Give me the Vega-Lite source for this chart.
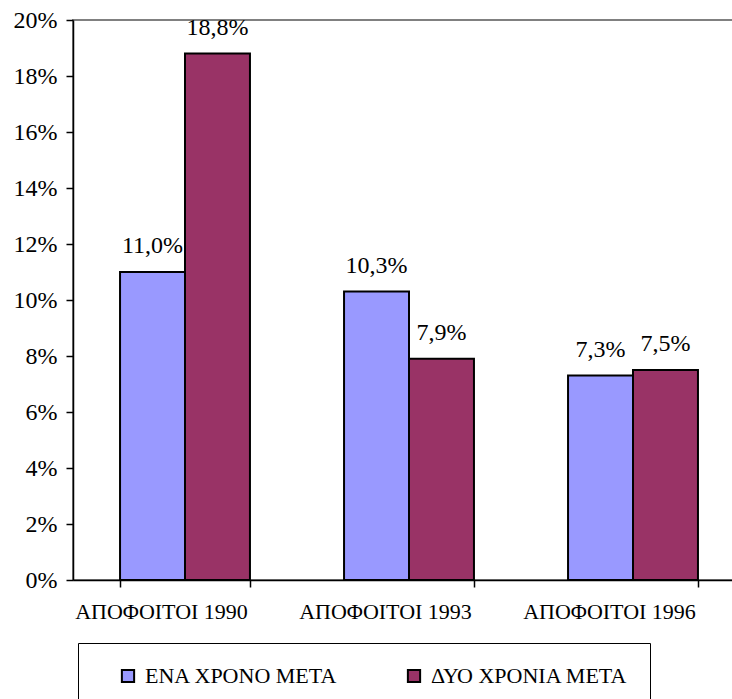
{
  "$schema": "https://vega.github.io/schema/vega-lite/v6.json",
  "width": 672,
  "height": 560,
  "autosize": "none",
  "padding": {"left": 73, "top": 20, "right": 0, "bottom": 119},
  "background": "white",
  "config": {
    "locale": {"number": {"decimal": ",", "thousands": ".", "grouping": [3], "currency": ["", "€"]}},
    "view": {"stroke": "#808080", "strokeWidth": 2},
    "font": "Liberation Serif, DejaVu Serif, serif"
  },
  "data": {
    "values": [
      {"group": "ΑΠΟΦΟΙΤΟΙ 1990", "series": "ΕΝΑ ΧΡΟΝΟ ΜΕΤΑ", "value": 0.110},
      {"group": "ΑΠΟΦΟΙΤΟΙ 1990", "series": "ΔΥΟ ΧΡΟΝΙΑ ΜΕΤΑ", "value": 0.188},
      {"group": "ΑΠΟΦΟΙΤΟΙ 1993", "series": "ΕΝΑ ΧΡΟΝΟ ΜΕΤΑ", "value": 0.103},
      {"group": "ΑΠΟΦΟΙΤΟΙ 1993", "series": "ΔΥΟ ΧΡΟΝΙΑ ΜΕΤΑ", "value": 0.079},
      {"group": "ΑΠΟΦΟΙΤΟΙ 1996", "series": "ΕΝΑ ΧΡΟΝΟ ΜΕΤΑ", "value": 0.073},
      {"group": "ΑΠΟΦΟΙΤΟΙ 1996", "series": "ΔΥΟ ΧΡΟΝΙΑ ΜΕΤΑ", "value": 0.075}
    ]
  },
  "encoding": {
    "x": {
      "field": "group", "type": "nominal", "sort": null,
      "scale": {"paddingInner": 0.42, "paddingOuter": 0.21},
      "axis": {
        "title": null, "labelAngle": 0, "labelOffset": -24, "labelFontSize": 22,
        "labelColor": "black", "labelPadding": 14, "tickBand": "extent",
        "ticks": true, "tickSize": 7, "tickColor": "black", "tickWidth": 1.5,
        "domainColor": "black", "domainWidth": 1.5, "labelFont": "Liberation Serif, DejaVu Serif, serif"
      }
    },
    "xOffset": {"field": "series", "type": "nominal", "sort": ["ΕΝΑ ΧΡΟΝΟ ΜΕΤΑ", "ΔΥΟ ΧΡΟΝΙΑ ΜΕΤΑ"]},
    "y": {
      "field": "value", "type": "quantitative",
      "scale": {"domain": [0, 0.2], "nice": false},
      "axis": {
        "title": null, "grid": false, "format": ".0%",
        "values": [0, 0.02, 0.04, 0.06, 0.08, 0.1, 0.12, 0.14, 0.16, 0.18, 0.2],
        "labelFontSize": 24, "labelColor": "black", "labelPadding": 9,
        "tickSize": 7, "tickColor": "black", "tickWidth": 1.5,
        "domainColor": "black", "domainWidth": 1.5, "labelFont": "Liberation Serif, DejaVu Serif, serif"
      }
    }
  },
  "layer": [
    {
      "mark": {"type": "bar", "stroke": "black", "strokeWidth": 2},
      "encoding": {
        "color": {
          "field": "series", "type": "nominal",
          "sort": ["ΕΝΑ ΧΡΟΝΟ ΜΕΤΑ", "ΔΥΟ ΧΡΟΝΙΑ ΜΕΤΑ"],
          "scale": {"domain": ["ΕΝΑ ΧΡΟΝΟ ΜΕΤΑ", "ΔΥΟ ΧΡΟΝΙΑ ΜΕΤΑ"], "range": ["#9999FF", "#993366"]},
          "legend": {
            "title": null, "orient": "none", "legendX": 5, "legendY": 623,
            "direction": "horizontal", "columns": 2,
            "strokeColor": "black", "fillColor": "white", "padding": 22,
            "symbolType": "square", "symbolSize": 150, "symbolStrokeColor": "black",
            "symbolStrokeWidth": 2, "symbolOffset": 17,
            "labelFontSize": 22, "labelColor": "black", "labelFont": "Liberation Serif, DejaVu Serif, serif",
            "labelOffset": 6, "columnPadding": 48, "labelLimit": 400
          }
        }
      }
    },
    {
      "mark": {"type": "text", "baseline": "bottom", "dy": -14, "fontSize": 24, "font": "Liberation Serif, DejaVu Serif, serif", "color": "black"},
      "encoding": {"text": {"field": "value", "type": "quantitative", "format": ".1%"}}
    }
  ]
}
